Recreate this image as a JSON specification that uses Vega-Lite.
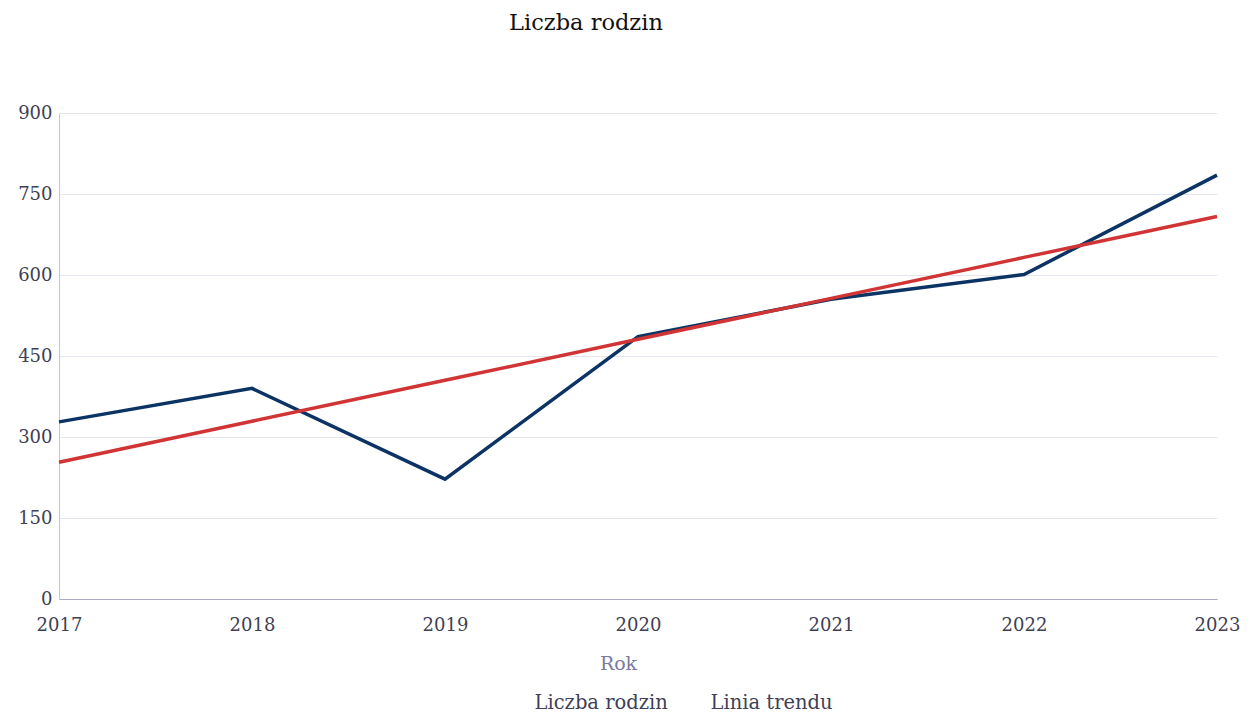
{
  "$schema": "https://vega.github.io/schema/vega-lite/v6.json",
  "width": 1255,
  "height": 715,
  "autosize": {"type": "fit", "contains": "padding"},
  "padding": {"left": 17, "right": 15, "top": 11, "bottom": 42},
  "background": "white",
  "title": {
    "text": "Liczba rodzin",
    "font": "DejaVu Serif",
    "fontSize": 22.5,
    "fontWeight": "normal",
    "color": "#111111",
    "anchor": "middle",
    "dx": -52,
    "offset": 70
  },
  "config": {
    "view": {"stroke": null},
    "font": "DejaVu Serif"
  },
  "data": {
    "values": [
      {"Rok": "2017", "value": 328, "series": "Liczba rodzin"},
      {"Rok": "2018", "value": 390, "series": "Liczba rodzin"},
      {"Rok": "2019", "value": 222, "series": "Liczba rodzin"},
      {"Rok": "2020", "value": 486, "series": "Liczba rodzin"},
      {"Rok": "2021", "value": 555, "series": "Liczba rodzin"},
      {"Rok": "2022", "value": 601, "series": "Liczba rodzin"},
      {"Rok": "2023", "value": 785, "series": "Liczba rodzin"},
      {"Rok": "2017", "value": 253.3, "series": "Linia trendu"},
      {"Rok": "2018", "value": 329.2, "series": "Linia trendu"},
      {"Rok": "2019", "value": 405.0, "series": "Linia trendu"},
      {"Rok": "2020", "value": 480.9, "series": "Linia trendu"},
      {"Rok": "2021", "value": 556.7, "series": "Linia trendu"},
      {"Rok": "2022", "value": 632.6, "series": "Linia trendu"},
      {"Rok": "2023", "value": 708.4, "series": "Linia trendu"}
    ]
  },
  "mark": {"type": "line", "strokeWidth": 3.5},
  "encoding": {
    "x": {
      "field": "Rok",
      "type": "ordinal",
      "scale": {"type": "point", "padding": 0},
      "axis": {
        "title": "Rok",
        "titleFont": "DejaVu Serif",
        "titleFontSize": 19,
        "titleFontWeight": "normal",
        "titleColor": "#7a7a9e",
        "titlePadding": 20,
        "titleX": 559,
        "labelAngle": 0,
        "labelFont": "DejaVu Serif",
        "labelFontSize": 18,
        "labelColor": "#3f3f55",
        "labelPadding": 17,
        "ticks": false,
        "domainColor": "#a9a9c6",
        "domainWidth": 1,
        "grid": false
      }
    },
    "y": {
      "field": "value",
      "type": "quantitative",
      "scale": {"domain": [0, 900]},
      "axis": {
        "title": null,
        "values": [0, 150, 300, 450, 600, 750, 900],
        "labelFont": "DejaVu Serif",
        "labelFontSize": 18,
        "labelColor": "#3f3f55",
        "labelPadding": 7,
        "ticks": false,
        "domainColor": "#c4c4d8",
        "gridColor": "#e6e6ee",
        "gridWidth": 1
      }
    },
    "color": {
      "field": "series",
      "type": "nominal",
      "scale": {"domain": ["Liczba rodzin", "Linia trendu"], "range": ["#0b3464", "#d13434"]},
      "legend": {
        "title": null,
        "orient": "none",
        "legendX": 452,
        "legendY": 580,
        "direction": "horizontal",
        "symbolOpacity": 0,
        "symbolSize": 0,
        "symbolStrokeWidth": 0,
        "labelFont": "DejaVu Serif",
        "labelFontSize": 19.5,
        "labelColor": "#3f3f55",
        "columnPadding": 19,
        "padding": 0
      }
    }
  }
}
